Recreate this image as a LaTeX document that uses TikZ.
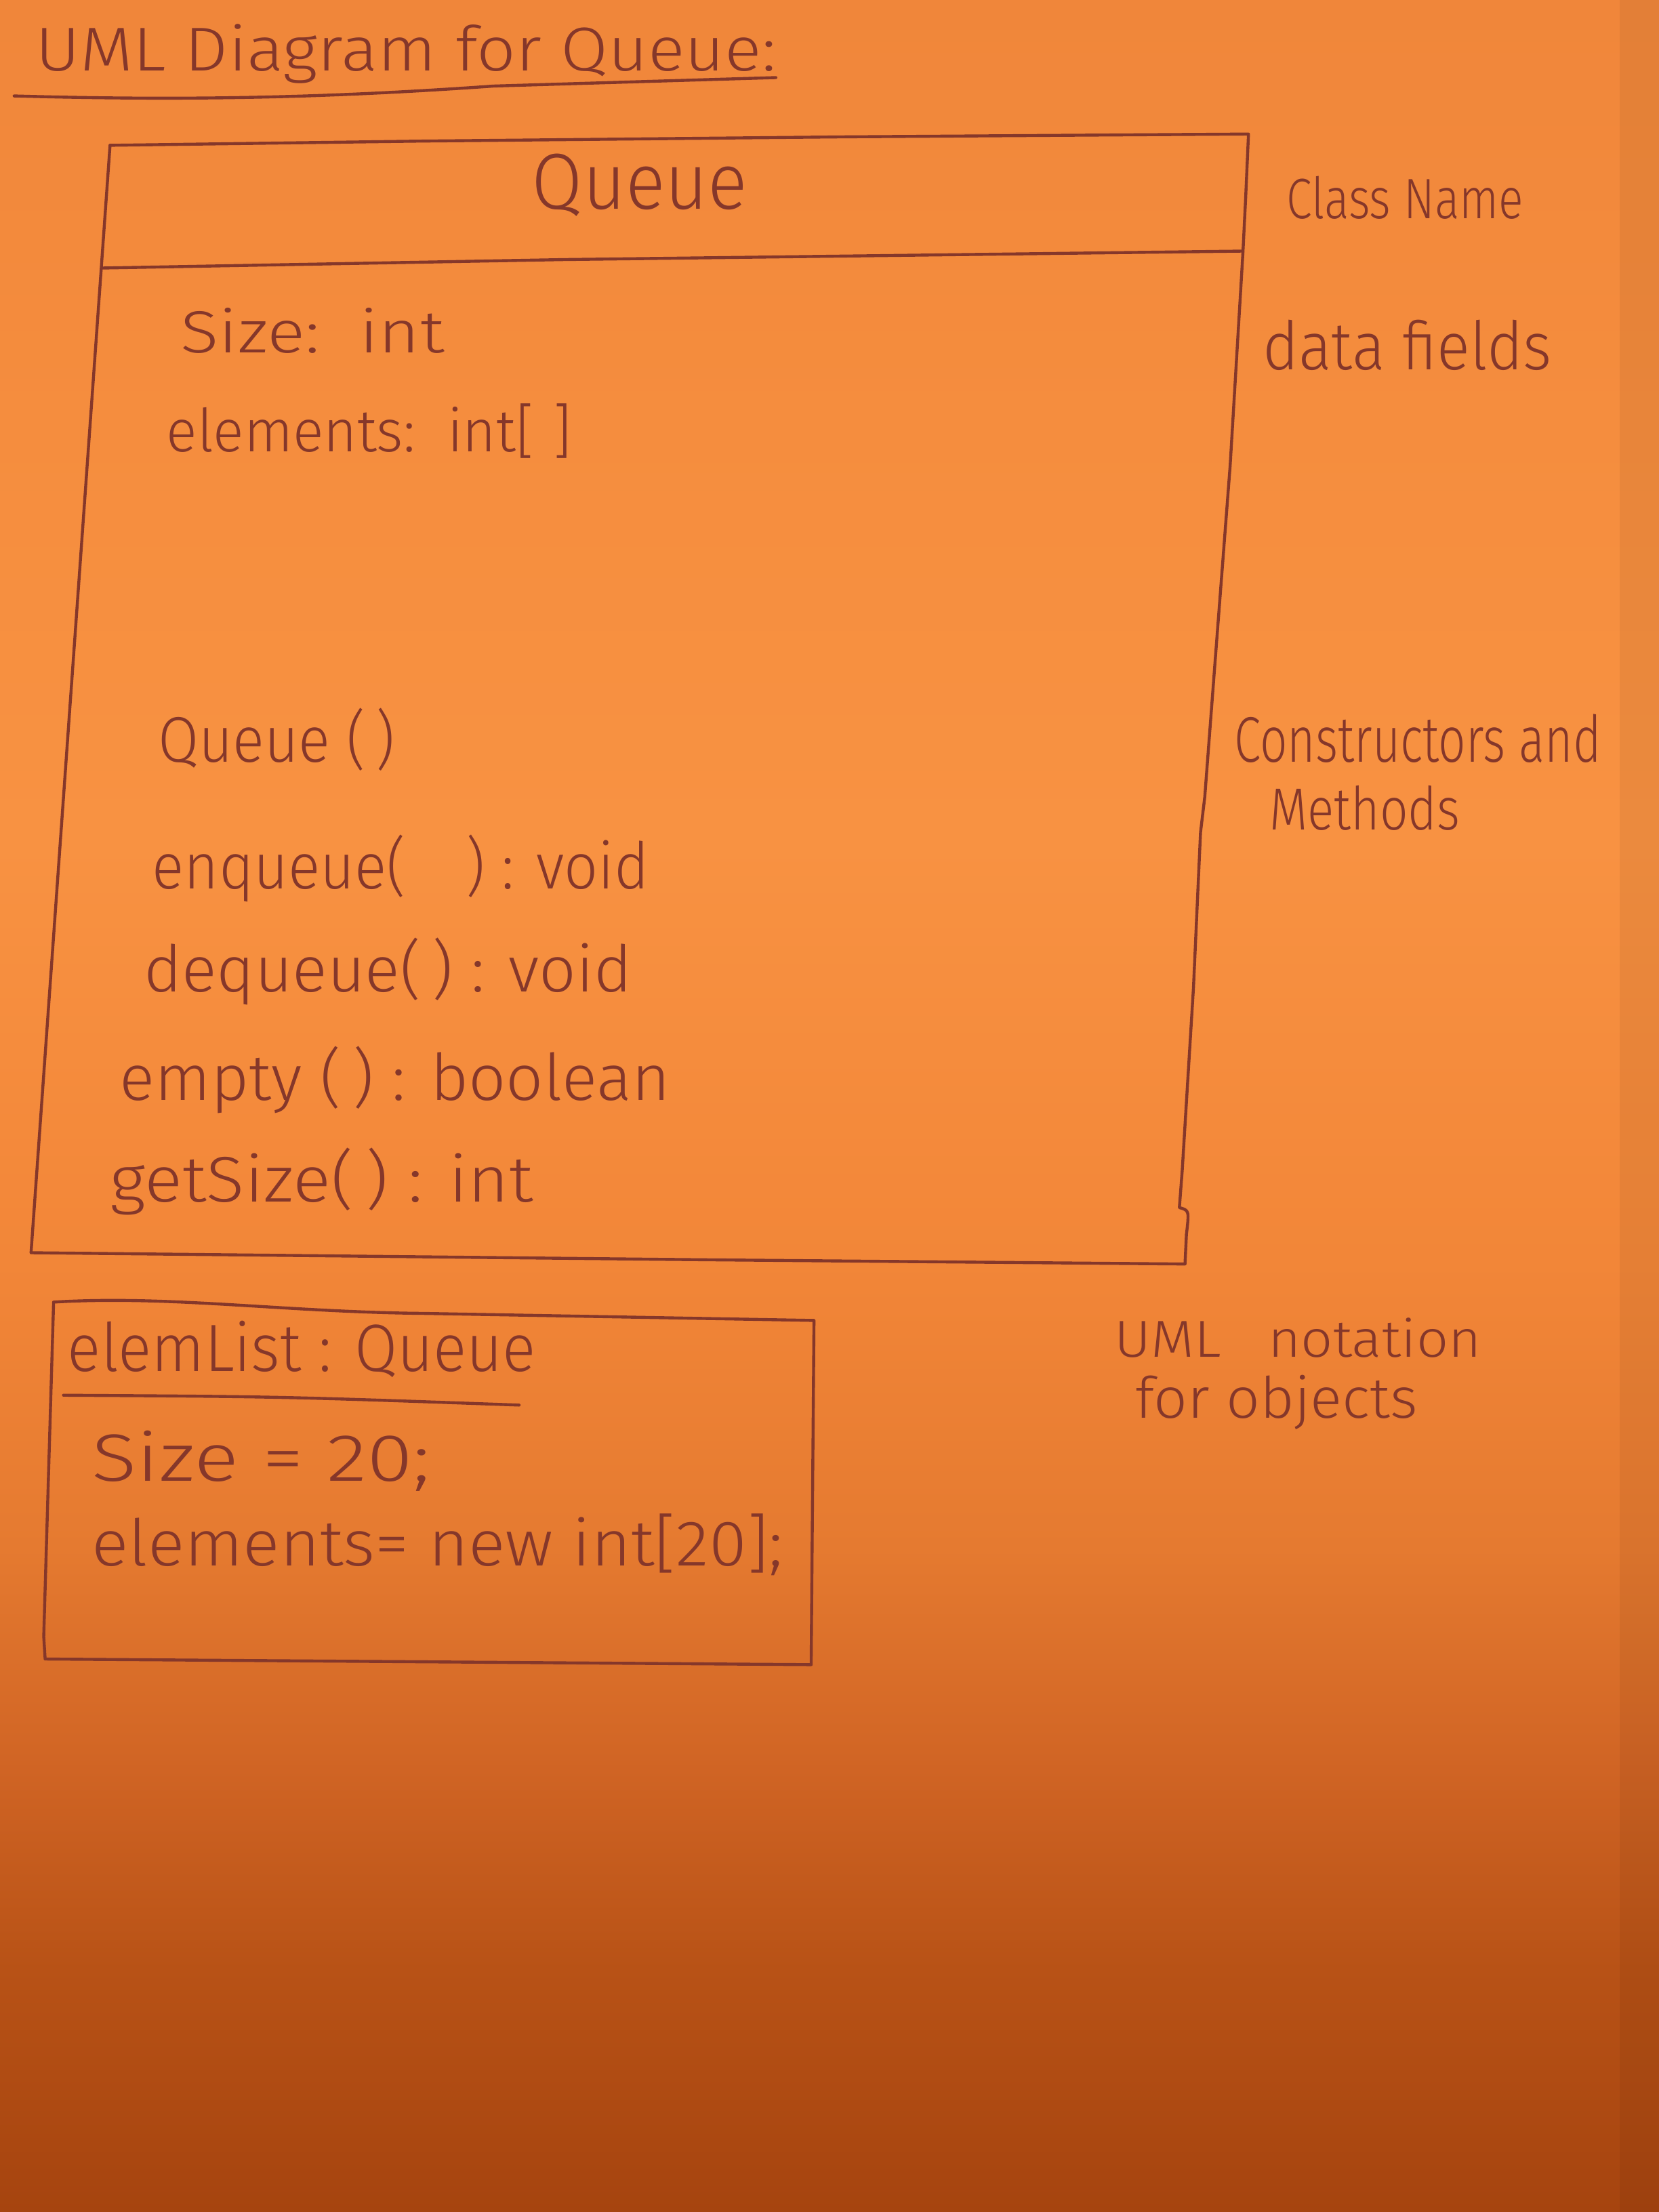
\documentclass[tikz,border=0pt]{standalone}
\usepackage{fontspec}
\setmainfont{Fira Sans Light}
\usepackage{graphicx}

% one unit of the sketch grid
\newlength\upx
\setlength\upx{0.02cm}
% handwritten line: font size #2, stretched sideways to width #1 (grid units)
\newcommand\hw[3]{\resizebox{#1\upx}{\height}{\fontsize{#2}{#2}\selectfont #3}}

% paper colours, bottom to top
\definecolor{pA}{HTML}{A6440F}
\definecolor{pB}{HTML}{B85216}
\definecolor{pC}{HTML}{D06424}
\definecolor{pD}{HTML}{E57A30}
\definecolor{pE}{HTML}{F28638}
\definecolor{pF}{HTML}{F89242}
\definecolor{pG}{HTML}{F58D3E}
\definecolor{pH}{HTML}{F0863A}
\definecolor{inkc}{HTML}{85372A}

% the visible part of a shading is its middle band 25bp..75bp
\pgfdeclareverticalshading{paper}{100bp}{%
  color(0bp)=(pA); color(25bp)=(pA); color(30.5bp)=(pB); color(35bp)=(pC);
  color(40bp)=(pD); color(46.5bp)=(pE); color(56bp)=(pF); color(65.5bp)=(pG);
  color(75bp)=(pH); color(100bp)=(pH)}

\begin{document}
\begin{tikzpicture}[x=0.02cm, y=-0.02cm,
  ink/.style={draw=inkc, line width=1.2pt, line cap=round, line join=round},
  hand/.style={anchor=base west, inner sep=0pt, outer sep=0pt, text=inkc}]

\useasboundingbox (0,0) rectangle (1176,1568);

% sheet of orange paper
\shade[shading=paper] (0,0) rectangle (1176,1568);
\fill[black, opacity=0.05] (1148,0) rectangle (1176,1568);

% heading
\node[hand] (title) at (25,50) {\hw{525}{25pt}{UML Diagram for Queue:}};
\draw[ink] (10,68) .. controls (150,72) and (250,68) .. (350,61) -- (550,55);

% class box
\draw[ink] (78,103) -- (300,100) -- (600,97) -- (885,95) -- (883,140) -- (881,180);
\draw[ink] (72,190) -- (400,184) -- (880,178);
\draw[ink] (881,180) -- (872,330) -- (862,460) -- (854,565) -- (851,590)
  -- (846,700) -- (838,830) -- (836,856) .. controls (843,858) .. (841,875)
  -- (840,896) -- (500,893) -- (22,888) -- (50,495) -- (78,103);

\node[hand] (cname)  at (377,148) {\hw{153}{32pt}{Queue}};
\node[hand] (fsize)  at (128,250) {\hw{187}{24pt}{Size:\ \ int}};
\node[hand] (felem)  at (118,320) {\hw{287}{24pt}{elements:\ \ int[\,\,]}};
\node[hand] (mctor)  at (112,540) {\hw{168}{26pt}{Queue (\,)}};
\node[hand] (menq)   at (108,630) {\hw{352}{26pt}{enqueue(\quad) : void}};
\node[hand] (mdeq)   at (102,703) {\hw{346}{26pt}{dequeue(\,) : void}};
\node[hand] (mempty) at (85,780)  {\hw{390}{26pt}{empty (\,) : boolean}};
\node[hand] (msize)  at (78,852)  {\hw{300}{26pt}{getSize(\,) : int}};

% side notes
\node[hand] (nclass) at (912,155) {\hw{168}{23pt}{Class Name}};
\node[hand] (nfield) at (895,262) {\hw{205}{27pt}{data fields}};
\node[hand] (nmeth1) at (875,540) {\hw{260}{26pt}{Constructors and}};
\node[hand] (nmeth2) at (900,588) {\hw{135}{24pt}{Methods}};
\node[hand] (nobj1)  at (790,962) {\hw{260}{21pt}{UML\ \ \ notation}};
\node[hand] (nobj2)  at (805,1005) {\hw{200}{23pt}{for objects}};

% object box
\draw[ink] (38,923) .. controls (120,918) and (200,930) .. (300,931)
  -- (577,936) -- (575,1180) -- (32,1176) -- (31,1160) -- cycle;
\node[hand] (oname) at (48,972) {\hw{332}{27pt}{elemList : Queue}};
\draw[ink] (45,989) .. controls (200,990) .. (368,996);
\node[hand] (osize) at (65,1050) {\hw{240}{27pt}{Size = 20;}};
\node[hand] (oelem) at (65,1110) {\hw{490}{26pt}{elements= new int[20];}};

\end{tikzpicture}
\end{document}
